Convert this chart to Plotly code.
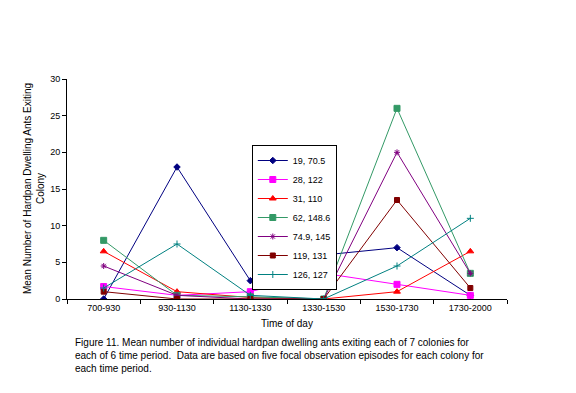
import plotly.graph_objects as go

categories = ["700-930", "930-1130", "1130-1330", "1330-1530", "1530-1730", "1730-2000"]
series_names = ["19, 70.5", "28, 122", "31, 110", "62, 148.6", "74.9, 145", "119, 131", "126, 127"]
s1 = [0, 18, 2.5, 6, 7, 0.5]
s2 = [1.7, 0.5, 1, 3.5, 2, 0.5]
s3 = [6.5, 1, 0.2, 0, 1, 6.5]
s4 = [8, 0.5, 0.3, 0, 26, 3.5]
s5 = [4.5, 0.5, 0, 0, 20, 3.5]
s6 = [1, 0, 0, 0, 13.5, 1.5]
s7 = [1.5, 7.5, 0.5, 0, 4.5, 11]
y_ticks = [0, 5, 10, 15, 20, 25, 30]

values = [s1, s2, s3, s4, s5, s6, s7]
colors = ["#000080", "#FF00FF", "#FF0000", "#339966", "#800080", "#800000", "#008080"]
symbols = ["diamond", "square", "triangle-up", "square", "asterisk-open", "square", "cross-thin-open"]
sizes = [5, 6, 6, 6, 5, 5, 5]

fig = go.Figure()
for name, v, c, s, sz in zip(series_names, values, colors, symbols, sizes):
    fig.add_trace(go.Scatter(
        x=categories, y=v, name=name, mode="lines+markers",
        line=dict(color=c, width=1),
        marker=dict(symbol=s, size=sz, color=c, line=dict(color=c, width=1)),
    ))

fig.update_layout(
    width=576, height=393,
    margin=dict(l=59, r=77, t=71, b=102),
    paper_bgcolor="white", plot_bgcolor="white",
    font=dict(family="Arial, Liberation Sans, sans-serif", size=9, color="black"),
    showlegend=True,
    legend=dict(x=0.42, y=0.7, xanchor="left", yanchor="top",
                bordercolor="black", borderwidth=1, bgcolor="white",
                font=dict(size=9), tracegroupgap=0, itemwidth=30,
                itemclick=False),
    xaxis=dict(type="category", showline=True, linecolor="black", linewidth=1,
               ticks="outside", tickson="boundaries", ticklen=4, tickcolor="black",
               showgrid=False, zeroline=False, range=[-0.5, 5.5],
               title=dict(text="Time of day", font=dict(size=10), standoff=8)),
    yaxis=dict(range=[0, 30], tickvals=y_ticks, showline=True, linecolor="black",
               linewidth=1, ticks="outside", ticklen=4, tickcolor="black",
               showgrid=False, zeroline=False),
)

fig.add_annotation(
    text="Mean Number of Hardpan Dwelling Ants Exiting<br>Colony",
    xref="paper", yref="paper", x=-0.043, y=0.5, xanchor="right", yanchor="middle",
    textangle=-90, showarrow=False, font=dict(size=10), align="center")

fig.add_annotation(
    text="Figure 11. Mean number of individual hardpan dwelling ants exiting each of 7 colonies for<br>"
         "each of 6 time period.  Data are based on five focal observation episodes for each colony for<br>"
         "each time period.",
    xref="paper", yref="paper", x=(73 - 67) / 440, y=-0.165, xanchor="left", yanchor="top",
    showarrow=False, font=dict(size=10), align="left")

fig.write_html("out.html")
